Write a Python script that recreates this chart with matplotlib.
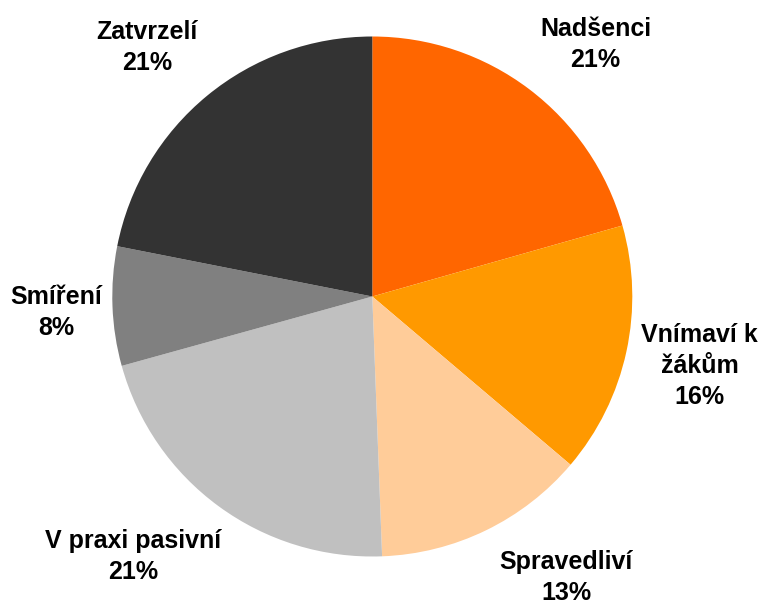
"""Koláčový graf typů učitelů."""

import matplotlib

matplotlib.use("Agg")
import matplotlib.pyplot as plt

# hodnoty (podíly výsečí v %)
kategorie = ["Nadšenci", "Vnímaví k\nžákům", "Spravedliví", "V praxi pasivní", "Smíření", "Zatvrzelí"]
hodnoty = [20.6, 15.6, 13.2, 21.3, 7.4, 21.9]
popisky_procent = ["21%", "16%", "13%", "21%", "8%", "21%"]
barvy = ["#FF6600", "#FF9900", "#FFCC99", "#C0C0C0", "#808080", "#333333"]

# pozice popisků v jednotkách poloměru (střed koláče = 0, 0)
pozice_popisku = [
    (0.859, 0.971),
    (1.259, -0.269),
    (0.745, -1.079),
    (-0.920, -1.000),
    (-1.217, -0.060),
    (-0.867, 0.956),
]

SIRKA, VYSKA = 760, 604
STRED_X, STRED_Y, POLOMER = 372.3, 296.5, 260.0

plt.rcParams["font.family"] = ["Liberation Sans", "DejaVu Sans"]

figura = plt.figure(figsize=(SIRKA / 100, VYSKA / 100), dpi=100)
os = figura.add_axes([0, 0, 1, 1])

os.pie(
    hodnoty,
    colors=barvy,
    startangle=90,
    counterclock=False,
    radius=1.0,
    wedgeprops={"linewidth": 0},
)

for nazev, procento, (x, y) in zip(kategorie, popisky_procent, pozice_popisku):
    os.text(
        x, y, f"{nazev}\n{procento}",
        ha="center", va="center", fontsize=18, fontweight="bold",
        linespacing=1.37, color="black",
    )

os.set_xlim(-STRED_X / POLOMER, (SIRKA - STRED_X) / POLOMER)
os.set_ylim(-(VYSKA - STRED_Y) / POLOMER, STRED_Y / POLOMER)
os.set_aspect("equal")
os.axis("off")

figura.savefig("out.png", dpi=100, facecolor="white")
